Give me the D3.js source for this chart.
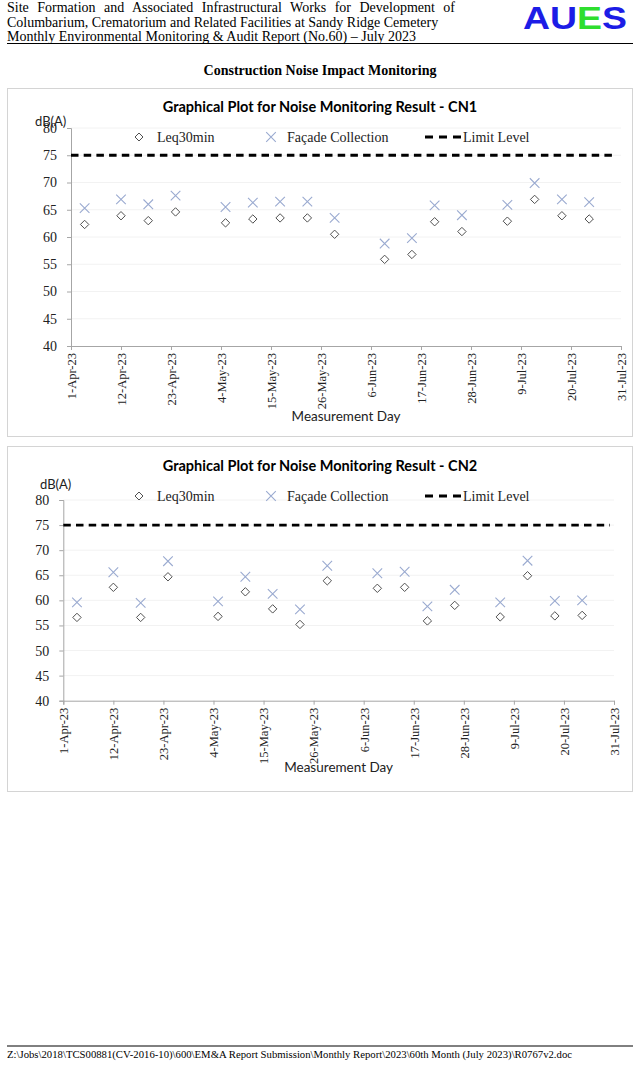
<!DOCTYPE html>
<html><head><meta charset="utf-8">
<script src="https://cdn.jsdelivr.net/npm/d3@7"></script>
<style>html,body{margin:0;padding:0;background:#fff;}svg{display:block;}</style>
</head><body>
<svg id="page" width="640" height="1065"></svg>
<script>
// ---------- DATA ----------
const measureDates = ["2023-04-04","2023-04-12","2023-04-18","2023-04-24","2023-05-05","2023-05-11","2023-05-17","2023-05-23","2023-05-29","2023-06-09","2023-06-15","2023-06-20","2023-06-26","2023-07-06","2023-07-12","2023-07-18","2023-07-24"];
const cn1Leq    = [62.3,63.9,63.0,64.6,62.6,63.3,63.5,63.5,60.5,55.9,56.8,62.8,61.0,62.9,66.9,63.9,63.3];
const cn1Facade = [65.3,66.9,66.0,67.6,65.5,66.3,66.5,66.5,63.5,58.8,59.8,65.8,64.0,65.9,69.9,66.9,66.4];
const cn2Leq    = [56.6,62.6,56.6,64.7,56.8,61.7,58.3,55.2,63.9,62.4,62.6,55.9,59.0,56.7,64.9,56.9,57.0];
const cn2Facade = [59.6,65.6,59.5,67.8,59.8,64.7,61.3,58.2,66.9,65.4,65.7,58.8,62.1,59.6,67.9,59.9,60.0];
const limitLevel = 75;
const xTickDates = ["2023-04-01","2023-04-12","2023-04-23","2023-05-04","2023-05-15","2023-05-26","2023-06-06","2023-06-17","2023-06-28","2023-07-09","2023-07-20","2023-07-31"];
const xDomain = ["2023-04-01","2023-07-31"];
const yTicks = [40,45,50,55,60,65,70,75,80];
const yDomain = [40,80];
const seriesNames = ["Leq30min","Façade Collection","Limit Level"];
const chartTitles = ["Graphical Plot for Noise Monitoring Result - CN1","Graphical Plot for Noise Monitoring Result - CN2"];
const headerLines = ["Site Formation and Associated Infrastructural Works for Development of","Columbarium, Crematorium and Related Facilities at Sandy Ridge Cemetery","Monthly Environmental Monitoring & Audit Report (No.60) \u2013 July 2023"];
const footerText = "Z:\\Jobs\\2018\\TCS00881(CV-2016-10)\\600\\EM&A Report Submission\\Monthly Report\\2023\\60th Month (July 2023)\\R0767v2.doc";

// ---------- DRAW ----------
const parse = d3.timeParse("%Y-%m-%d");
const fmt = d3.timeFormat("%-d-%b-%y");
const svg = d3.select("#page");
const SERIF = "'Liberation Serif','Times New Roman',serif";
const SANS = "Lato,'Open Sans',sans-serif";

// header
const hdr = svg.append("g");
headerLines.forEach((t,i)=>{
  const el = hdr.append("text").attr("x",7).attr("y",12+i*14.6)
    .attr("font-family",SERIF).attr("font-size",14).attr("fill","#000").text(t);
  if(i===0){
    const w = el.node().getComputedTextLength();
    const nSp = t.split(" ").length-1;
    el.attr("word-spacing",((455-7)-w)/nSp);
  }
});
const logo = hdr.append("text").attr("x",523).attr("y",28.5)
  .attr("font-family","'Liberation Sans',Arial,sans-serif").attr("font-weight","bold").attr("font-size",31)
  .attr("textLength",104).attr("lengthAdjust","spacingAndGlyphs");
logo.append("tspan").attr("fill","#1c1ce6").text("AU");
logo.append("tspan").attr("fill","#2ede2e").text("E");
logo.append("tspan").attr("fill","#1c1ce6").text("S");
hdr.append("line").attr("x1",7).attr("x2",633).attr("y1",43.5).attr("y2",43.5).attr("stroke","#000").attr("stroke-width",1.2);

svg.append("text").attr("x",320).attr("y",75).attr("text-anchor","middle")
  .attr("font-family",SERIF).attr("font-weight","bold").attr("font-size",14).text("Construction Noise Impact Monitoring");

// footer
svg.append("line").attr("x1",7).attr("x2",633).attr("y1",1046).attr("y2",1046).attr("stroke","#000").attr("stroke-width",1);
svg.append("text").attr("x",7).attr("y",1058).attr("font-family",SERIF).attr("font-size",10.5)
  .attr("textLength",565).attr("lengthAdjust","spacingAndGlyphs").text(footerText);

const diamondPath = (cx,cy,r)=>`M${cx},${cy-r}L${cx+r},${cy}L${cx},${cy+r}L${cx-r},${cy}Z`;
const crossPath = (cx,cy,r)=>`M${cx-r},${cy-r}L${cx+r},${cy+r}M${cx-r},${cy+r}L${cx+r},${cy-r}`;
const DIAM = "#505050", CROSS = "#9aaad0";

function drawChart(cfg, title, leq, facade){
  const g = svg.append("g");
  g.append("rect").attr("x",cfg.box[0]+0.5).attr("y",cfg.box[1]+0.5).attr("width",cfg.box[2]).attr("height",cfg.box[3])
    .attr("fill","#fff").attr("stroke","#d4d4d4");
  const x = d3.scaleTime().domain(xDomain.map(parse)).range([cfg.left,cfg.right]);
  const y = d3.scaleLinear().domain(yDomain).range([cfg.bottom,cfg.top]);

  // faint gridlines
  g.append("g").selectAll("line").data(yTicks.slice(1)).join("line")
    .attr("x1",cfg.left).attr("x2",cfg.right).attr("y1",d=>y(d)).attr("y2",d=>y(d))
    .attr("stroke","#f2f2f2").attr("stroke-width",1);

  // title
  g.append("text").attr("x",320).attr("y",cfg.titleY).attr("text-anchor","middle")
    .attr("font-family",SANS).attr("font-weight","bold").attr("font-size",14.5).attr("fill","#000").text(title);

  // y axis
  const ya = g.append("g").attr("transform",`translate(${cfg.left},0)`)
    .call(d3.axisLeft(y).tickValues(yTicks).tickSize(4).tickPadding(10).tickFormat(d3.format("d")));
  ya.select(".domain").attr("stroke","#a6a6a6");
  ya.selectAll(".tick line").attr("stroke","#a6a6a6");
  ya.selectAll(".tick text").attr("font-family",SERIF).attr("font-size",14).attr("fill","#222");

  // x axis
  const xa = g.append("g").attr("transform",`translate(0,${cfg.bottom})`)
    .call(d3.axisBottom(x).tickValues(xTickDates.map(parse)).tickSize(4).tickFormat(fmt));
  xa.select(".domain").attr("stroke","#a6a6a6");
  xa.selectAll(".tick line").attr("stroke","#a6a6a6");
  xa.selectAll(".tick text").attr("font-family",SERIF).attr("font-size",12.5).attr("fill","#222")
    .attr("text-anchor","end").attr("transform","rotate(-90)").attr("x",-7).attr("y",0).attr("dy","0.35em");

  // dB(A) label
  g.append("text").attr("x",cfg.dbX).attr("y",cfg.dbY).attr("font-family",SANS).attr("font-size",13).attr("fill","#222").text("dB(A)");
  // x title
  g.append("text").attr("x",(cfg.left+cfg.right)/2).attr("y",cfg.xtY).attr("text-anchor","middle")
    .attr("font-family",SANS).attr("font-size",13.5).attr("fill","#222").text("Measurement Day");

  // limit line
  g.append("line").attr("x1",cfg.left).attr("x2",cfg.right-4).attr("y1",y(limitLevel)).attr("y2",y(limitLevel))
    .attr("stroke","#000").attr("stroke-width",2.8).attr("stroke-dasharray","7.5,5.2");

  const pts = measureDates.map((d,i)=>({d:parse(d),leq:leq[i],fac:facade[i]}));
  g.append("g").selectAll("path").data(pts).join("path")
    .attr("d",p=>crossPath(x(p.d),y(p.fac),4.8)).attr("stroke",CROSS).attr("stroke-width",1.1).attr("fill","none");
  g.append("g").selectAll("path").data(pts).join("path")
    .attr("d",p=>diamondPath(x(p.d),y(p.leq),4.2)).attr("stroke",DIAM).attr("stroke-width",1).attr("fill","#fff");

  // legend
  const ly = cfg.legY;
  g.append("path").attr("d",diamondPath(139,ly,4)).attr("stroke",DIAM).attr("fill","#fff");
  g.append("text").attr("x",157).attr("y",ly+5).attr("font-family",SERIF).attr("font-size",14).attr("fill","#222").text(seriesNames[0]);
  g.append("path").attr("d",crossPath(271,ly,4.8)).attr("stroke",CROSS).attr("stroke-width",1.1).attr("fill","none");
  g.append("text").attr("x",287).attr("y",ly+5).attr("font-family",SERIF).attr("font-size",14).attr("fill","#222").text(seriesNames[1]);
  g.append("line").attr("x1",425).attr("x2",461).attr("y1",ly).attr("y2",ly).attr("stroke","#000").attr("stroke-width",2.8).attr("stroke-dasharray","8,6");
  g.append("text").attr("x",463).attr("y",ly+5).attr("font-family",SERIF).attr("font-size",14).attr("fill","#222").text(seriesNames[2]);
}

drawChart({box:[7,88,625,348],left:71,right:621,top:128,bottom:346,titleY:112,legY:137,dbX:35,dbY:126,xtY:421},chartTitles[0],cn1Leq,cn1Facade);
drawChart({box:[7,446,625,345],left:63.3,right:614,top:500,bottom:700.7,titleY:471,legY:496,dbX:40,dbY:489,xtY:772},chartTitles[1],cn2Leq,cn2Facade);
</script>
</body></html>
